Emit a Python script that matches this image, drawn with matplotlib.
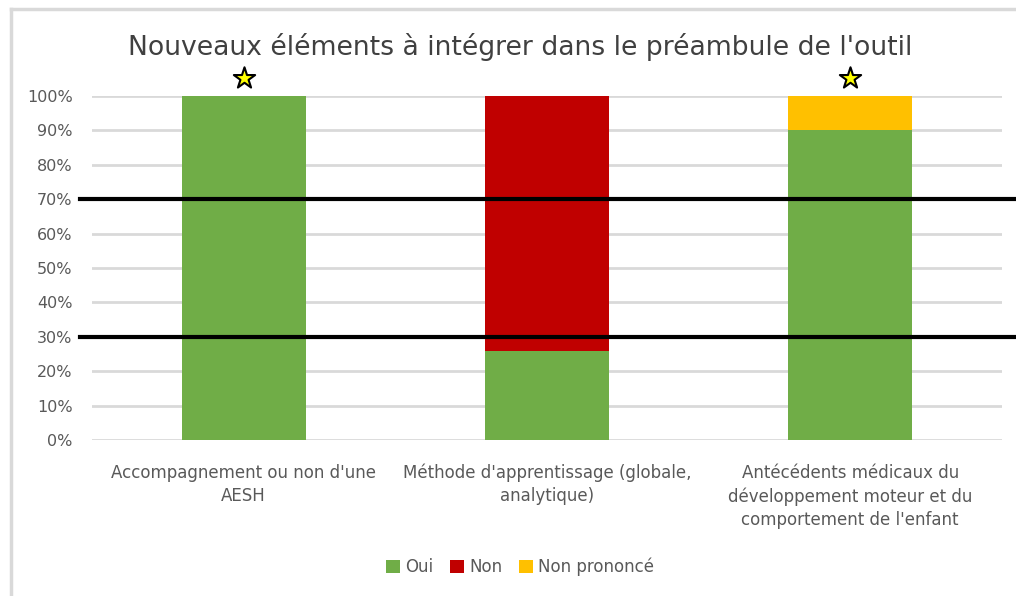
import matplotlib
matplotlib.use('agg')
import matplotlib.pyplot as plt
from matplotlib.lines import Line2D
import numpy as np

plt.rcParams['font.family'] = ['DejaVu Sans']

# données
categories = ["Accompagnement ou non d'une\nAESH",
              "Méthode d'apprentissage (globale,\nanalytique)",
              "Antécédents médicaux du\ndéveloppement moteur et du\ncomportement de l'enfant"]
oui = [100, 26, 90]
non = [0, 74, 0]
non_prononce = [0, 0, 10]
series_names = ["Oui", "Non", "Non prononcé"]
colors = ["#70AD47", "#C00000", "#FFC000"]
star_cats = [0, 2]
seuils = [70, 30]
title = "Nouveaux éléments à intégrer dans le préambule de l'outil"

fig = plt.figure(figsize=(10.16, 5.96), dpi=100)
ax = fig.add_axes([0.0906, 0.2617, 0.8955, 0.5772])

x = np.arange(len(categories))
width = 0.41
bottom = np.zeros(len(categories))
for vals, name, c in zip([oui, non, non_prononce], series_names, colors):
    ax.bar(x, vals, width, bottom=bottom, color=c, label=name, zorder=2)
    bottom += np.array(vals)

ax.set_xlim(-0.5, 2.5)
ax.set_ylim(0, 100)
ax.set_yticks(range(0, 101, 10))
ax.set_yticklabels([f"{v}%" for v in range(0, 101, 10)], fontsize=11.5, color="#595959")
ax.set_xticks(x)
ax.set_xticklabels(categories, fontsize=12, color="#595959", linespacing=1.38)
ax.tick_params(axis='y', length=0, pad=14)
ax.tick_params(axis='x', length=0, pad=17)
ax.grid(axis='y', color="#d9d9d9", linewidth=2, zorder=0)
for s in ax.spines.values():
    s.set_visible(False)

# lignes de seuil
for s in seuils:
    ax.axhline(s, xmin=-0.013, xmax=1.02, color="black", linewidth=3, clip_on=False, zorder=3)

# étoiles
ax.scatter(star_cats, [105.3] * len(star_cats), marker='*', s=260, color="#FFFF00",
           edgecolor="black", linewidth=1.5, clip_on=False, zorder=4)

fig.text(0.512, 1 - 47 / 596, title, ha='center', va='center', fontsize=19.2, color="#404040")

leg = fig.legend(loc='center', bbox_to_anchor=(0.512, 1 - 567 / 596), ncol=3, frameon=False,
                 fontsize=12, handlelength=0.85, handleheight=0.85, handletextpad=0.3,
                 columnspacing=1.0)
for t in leg.get_texts():
    t.set_color("#595959")

# cadre
fig.add_artist(Line2D([0.0108, 1.0], [0.985, 0.985], transform=fig.transFigure,
                      color="#d9d9d9", linewidth=2.5))
fig.add_artist(Line2D([0.0108, 0.0108], [0.0, 0.985], transform=fig.transFigure,
                      color="#d9d9d9", linewidth=2.5))

fig.savefig('out.png', dpi=100)
